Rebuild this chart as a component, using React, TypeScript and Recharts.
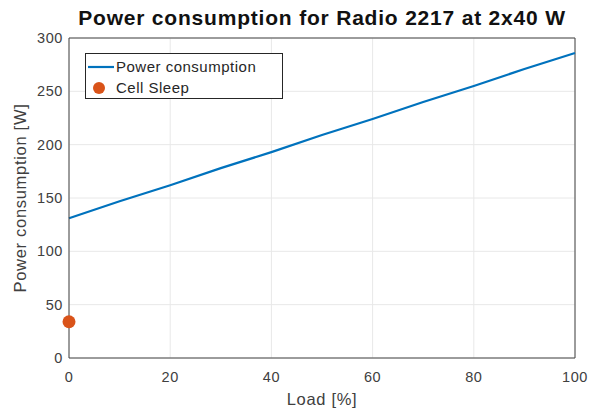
import {
  ComposedChart,
  Line,
  Scatter,
  XAxis,
  YAxis,
  CartesianGrid,
  ReferenceLine,
  Legend,
  Label,
} from 'recharts';

const loads = [0, 10, 20, 30, 40, 50, 60, 70, 80, 90, 100];
const powerValues = [131, 147, 162, 178, 193, 209, 224, 240, 255, 271, 286];
const sleepLoads = [0];
const sleepValues = [34];
const xTicks = [0, 20, 40, 60, 80, 100];
const yTicks = [0, 50, 100, 150, 200, 250, 300];

const BLUE = '#0072BD';
const ORANGE = '#D95319';
const FONT = '"Liberation Sans", Arial, Helvetica, sans-serif';

const lineData = loads.map((load, i) => ({ load, power: powerValues[i] }));
const sleepData = sleepLoads.map((load, i) => ({ load, sleep: sleepValues[i] }));

function LegendBox() {
  return (
    <div
      style={{
        width: 196,
        height: 44,
        border: '1px solid #262626',
        background: '#fff',
        position: 'relative',
      }}
    >
      <svg width={196} height={44} style={{ position: 'absolute', left: 0, top: 0 }}>
        <line x1={2} y1={13} x2={28} y2={13} stroke={BLUE} strokeWidth={2.2} />
        <circle cx={13} cy={34} r={6} fill={ORANGE} />
        <text x={30} y={18} fontSize={15} fill="#262626" fontFamily={FONT} style={{ letterSpacing: 0.5 }}>
          Power consumption
        </text>
        <text x={30} y={39} fontSize={15} fill="#262626" fontFamily={FONT} style={{ letterSpacing: 0.5 }}>
          Cell Sleep
        </text>
      </svg>
    </div>
  );
}

export default function App() {
  const tickStyle = { fontSize: 14.5, fill: '#404040', fontFamily: FONT, letterSpacing: 0.6 };
  const labelStyle = { fontSize: 16.5, fill: '#404040', fontFamily: FONT, letterSpacing: 0.7 };
  return (
    <div style={{ position: 'absolute', left: 0, top: 0, width: 599, height: 408, background: '#fff' }}>
      <div
        style={{
          position: 'absolute',
          left: 0,
          width: 644,
          top: 6,
          textAlign: 'center',
          fontFamily: FONT,
          fontWeight: 'bold',
          fontSize: 21,
          letterSpacing: 0.8,
          color: '#111',
        }}
      >
        Power consumption for Radio 2217 at 2x40 W
      </div>
      <ComposedChart
        width={599}
        height={408}
        data={lineData}
        margin={{ top: 38, right: 24, bottom: 0, left: 0 }}
        style={{ fontFamily: FONT }}
      >
        <CartesianGrid stroke="#e8e8e8" />
        <XAxis
          dataKey="load"
          type="number"
          domain={[0, 100]}
          ticks={xTicks}
          height={50}
          tickSize={0}
          tickMargin={14}
          tick={tickStyle}
          stroke="#444"
          interval={0}
        >
          <Label value="Load [%]" position="insideBottom" offset={3} style={labelStyle} />
        </XAxis>
        <YAxis
          type="number"
          domain={[0, 300]}
          ticks={yTicks}
          width={69}
          tickSize={0}
          tickMargin={6}
          tick={tickStyle}
          stroke="#444"
          interval={0}
        >
          <Label
            value="Power consumption [W]"
            angle={-90}
            position="insideLeft"
            offset={20}
            style={{ ...labelStyle, textAnchor: 'middle' }}
          />
        </YAxis>
        <ReferenceLine y={300} stroke="#444" />
        <ReferenceLine x={100} stroke="#444" />
        <Line
          dataKey="power"
          stroke={BLUE}
          strokeWidth={2.2}
          dot={false}
          isAnimationActive={false}
        />
        <Scatter
          data={sleepData}
          dataKey="sleep"
          fill={ORANGE}
          isAnimationActive={false}
          shape={(p: any) => <circle cx={p.cx} cy={p.cy} r={6.5} fill={ORANGE} />}
        />
        <Legend
          layout="vertical"
          align="center"
          verticalAlign="middle"
          content={() => <LegendBox />}
          wrapperStyle={{ left: 85, top: 53, width: 198, height: 46 }}
        />
      </ComposedChart>
    </div>
  );
}
